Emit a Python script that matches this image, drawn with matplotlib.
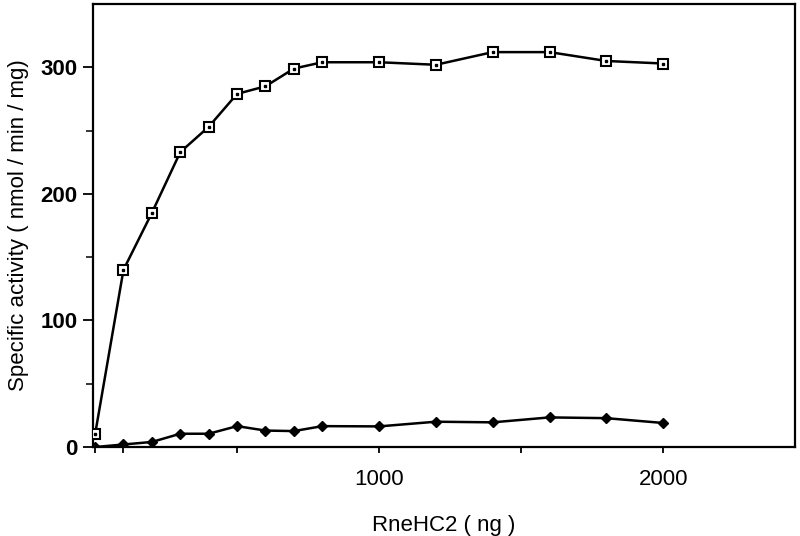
import matplotlib
matplotlib.use("Agg")
import matplotlib.pyplot as plt
from matplotlib.ticker import FixedLocator, NullFormatter

plt.rcParams['font.family'] = ['Liberation Sans', 'DejaVu Sans']

# Data
x_ng = [0, 100, 200, 300, 400, 500, 600, 700, 800, 1000, 1200, 1400, 1600, 1800, 2000]
activity_open = [10, 140, 185, 233, 253, 279, 285, 299, 304, 304, 302, 312, 312, 305, 303]
activity_filled = [0, 2, 4, 10.5, 10.5, 16.5, 13, 12.6, 16.5, 16.3, 20, 19.5, 23.4, 22.8, 19]

x_major_ticks = [0, 100, 500, 1000, 1500, 2000]
x_tick_labels = ['', '', '', '1000', '', '2000']
y_major_ticks = [0, 100, 200, 300]
y_minor_ticks = [50, 150, 250]

fig = plt.figure(figsize=(8.0, 5.36), dpi=100)
ax = fig.add_axes([0.116, 0.166, 0.878, 0.8265])

ax.plot(x_ng, activity_open, color='black', lw=1.8, marker='s', ms=7,
        mfc='white', mec='black', mew=1.5, zorder=3)
ax.plot(x_ng, activity_open, ls='none', marker='s', ms=1.8, mfc='black',
        mec='black', zorder=4)
ax.plot(x_ng, activity_filled, color='black', lw=1.8, marker='D', ms=5,
        mfc='black', mec='black', zorder=3)

ax.set_xlim(-8, 2465)
ax.set_ylim(0, 350)

ax.set_xticks(x_major_ticks)
ax.set_xticklabels(x_tick_labels, fontsize=16)
ax.set_yticks(y_major_ticks)
ax.set_yticklabels([str(v) for v in y_major_ticks], fontsize=16, fontweight='bold')
ax.yaxis.set_minor_locator(FixedLocator(y_minor_ticks))
ax.yaxis.set_minor_formatter(NullFormatter())

ax.tick_params(axis='x', direction='out', length=4, width=1.3, pad=12)
ax.tick_params(axis='y', which='major', direction='out', length=7, width=1.3, pad=4)
ax.tick_params(axis='y', which='minor', direction='out', length=5, width=1.1)

for s in ax.spines.values():
    s.set_linewidth(1.6)

ax.set_xlabel('RneHC2 ( ng )', fontsize=16, labelpad=18)
ax.set_ylabel('Specific activity ( nmol / min / mg)', fontsize=16, labelpad=8)

fig.savefig('out.png', dpi=100)
